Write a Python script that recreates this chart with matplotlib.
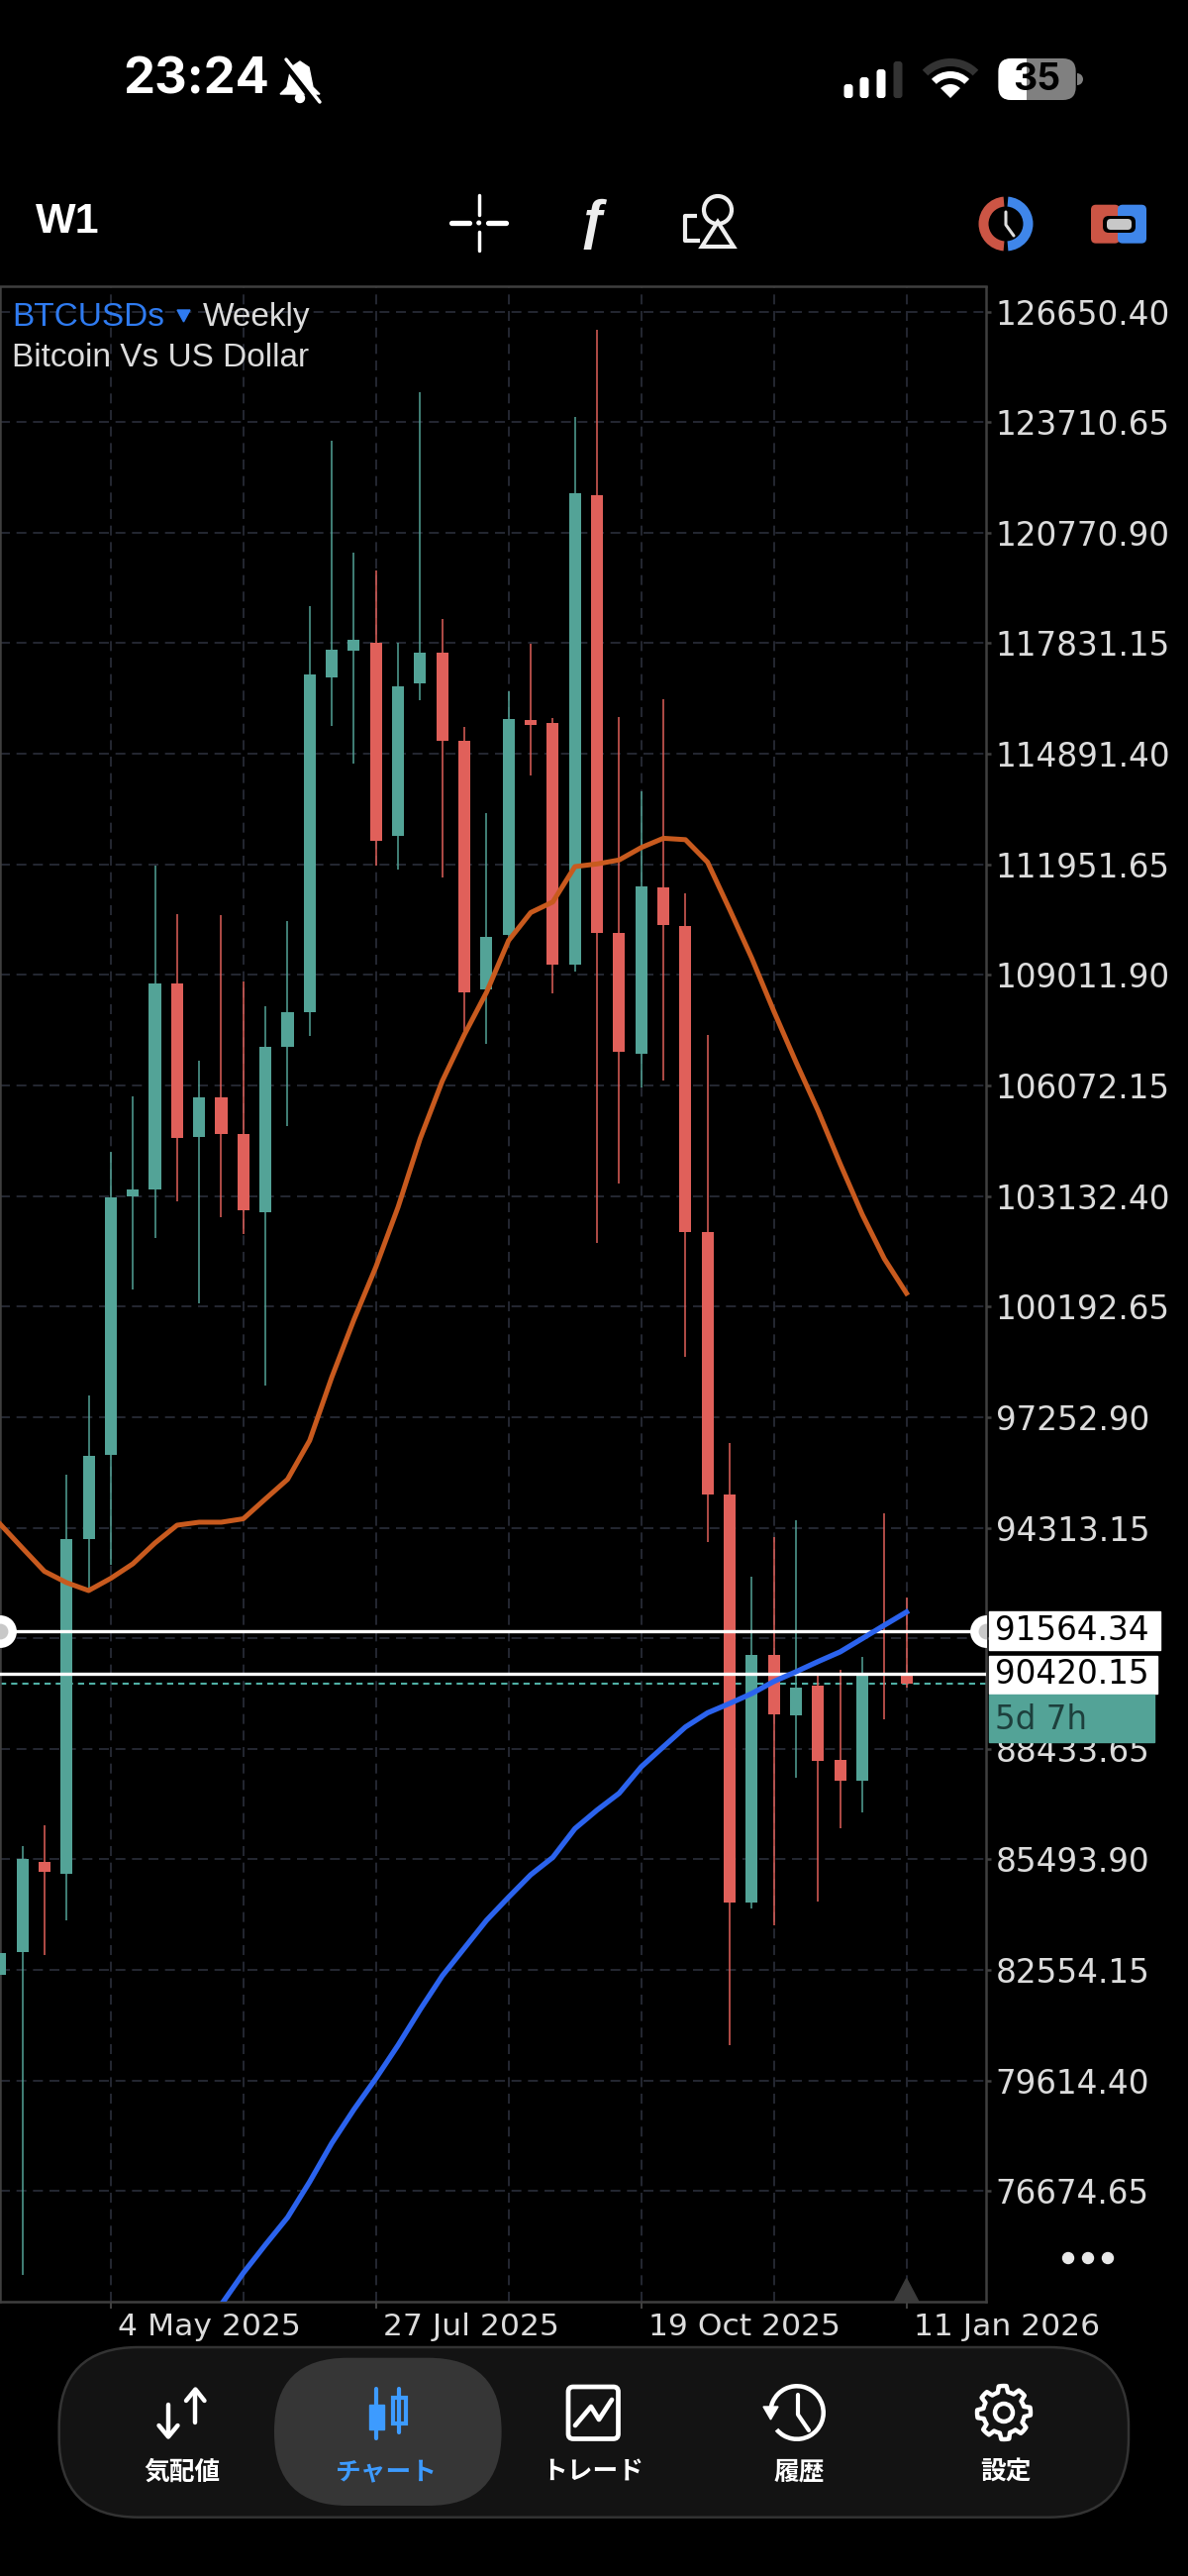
import numpy as np
import matplotlib
matplotlib.use('Agg')
import matplotlib.pyplot as plt
from matplotlib.patches import Rectangle, Circle, Wedge, FancyBboxPatch, Polygon
from matplotlib.transforms import ScaledTranslation

plt.rcParams['lines.scale_dashes'] = False
plt.rcParams['font.family'] = ['Liberation Sans', 'DejaVu Sans']

# Weekly candles, oldest first (index 5 is 4 May 2025, index 41 is 11 Jan 2026)
opens = [82417, 83031, 85432, 85113, 94022, 96255, 103122, 103309, 108776, 104707, 105755, 104781, 102709, 107106,
         108012, 116933, 117639, 117850, 112712, 116770, 117568, 115230, 108634, 110079, 115788, 115698, 109292,
         121776, 110140, 106919, 111338, 110316, 102180, 95209, 84350, 90930, 89324, 90114, 88146, 87592, 90462, 90377]
highs = [83005, 85849, 86401, 95715, 97819, 104307, 105782, 111925, 110627, 106719, 110601, 108847, 108189, 110432,
         118827, 123214, 120238, 119767, 117850, 124504, 118484, 115606, 113313, 116552, 117826, 115841, 123859,
         126163, 115867, 113892, 116341, 111180, 107425, 96566, 93000, 94069, 94517, 90367, 90543, 90883, 94704, 92458]
lows = [82417, 74436, 82957, 83863, 92668, 93327, 100647, 102016, 102991, 100278, 102580, 102111, 98101, 104979,
        107388, 115641, 114629, 111917, 111812, 116323, 111601, 107520, 107177, 109950, 114324, 108528, 109105,
        101874, 103452, 106019, 106203, 98857, 93933, 80556, 84190, 83747, 87666, 84374, 86323, 86734, 89227, 90049]
closes = [83005, 85506, 85164, 94022, 96223, 103085, 103309, 108776, 104684, 105755, 104781, 102756, 107106, 108012,
          117005, 117663, 117934, 112583, 116686, 117568, 115240, 108534, 110021, 115817, 115656, 109292, 121823,
          110127, 106967, 111364, 110327, 102180, 95209, 84337, 90920, 89356, 90072, 88121, 87592, 90462, 90420, 90167]

# Moving averages
ma_fast = [94406, 93775, 93153, 92853, 92642, 92966, 93353, 93906, 94380, 94459, 94459, 94551, 95080, 95599,
           96632, 98314, 99841, 101253, 102838, 104660, 106190, 107425, 108547, 109926, 110669, 110951, 111891,
           111962, 112067, 112397, 112644, 112607, 112009, 110751, 109458, 108046, 106696, 105402, 103991, 102641,
           101463, 100547]
ma_slow_start = 10
ma_slow = [73657, 74500, 75250, 75974, 76922, 77949, 78844, 79674, 80556, 81504, 82399, 83137, 83874, 84490,
           85085, 85548, 86312, 86805, 87252, 87955, 88487, 89014, 89390, 89640, 89904, 90225, 90483, 90754,
           91012, 91365, 91721, 92071]

price_ticks = [126650.40, 123710.65, 120770.90, 117831.15, 114891.40, 111951.65, 109011.90,
               106072.15, 103132.40, 100192.65, 97252.90, 94313.15, 91373.40, 88433.65,
               85493.90, 82554.15, 79614.40, 76674.65]
hidden_tick = 91373.40  # sits behind the price tag
date_ticks = [5, 17, 29, 41]
date_labels = ['4 May 2025', '27 Jul 2025', '19 Oct 2025', '11 Jan 2026']
grid_minor = [11, 23, 35]
level_a = 91564.34
level_b = 90420.15
level_bid = 90159

GREEN = '#53a397'
RED = '#e0605a'
ORANGE = '#c85a1e'
BLUE = '#2b63ee'
GRID = '#2b2e3a'
FRAME = '#3f3f3f'
TEXT = '#dcdcdc'
NAV_BLUE = '#3d9bff'
NUM_FONT = ['DejaVu Sans']

W, H = 1200, 2601
fig = plt.figure(figsize=(W / 100, H / 100), dpi=100, facecolor='black')

# chart axes
ax = fig.add_axes([0, 1 - 2324 / H, 996 / W, (2324 - 289.5) / H], facecolor='black')
ax.set_xlim(-0.01, 44.6)
ax.set_ylim(73735, 127309)

dash = (0, (7.2, 4.8))
ax.set_yticks(price_ticks)
ax.set_yticklabels(['' if t == hidden_tick else '%.2f' % t for t in price_ticks],
                   family=NUM_FONT, fontsize=23.5, color=TEXT)
ax.yaxis.tick_right()
ax.tick_params(axis='y', length=3.6, width=1.8, color=FRAME, pad=3.5)
ax.set_xticks(date_ticks)
ax.set_xticklabels(date_labels, family=NUM_FONT, fontsize=22.6, color=TEXT)
ax.set_xticks(grid_minor, minor=True)
ax.tick_params(axis='x', which='major', length=5, width=1.5, color=FRAME, pad=3)
ax.tick_params(axis='x', which='minor', length=0)
offset = ScaledTranslation(7 / 100, 0, fig.dpi_scale_trans)
for lbl in ax.get_xticklabels():
    lbl.set_ha('left')
    lbl.set_transform(lbl.get_transform() + offset)
ax.grid(True, which='major', color=GRID, linewidth=1.2, linestyle=dash)
ax.grid(True, which='minor', axis='x', color=GRID, linewidth=1.2, linestyle=dash)
ax.set_axisbelow(True)
for s in ax.spines.values():
    s.set_color(FRAME)
    s.set_linewidth(1.8)

# candles
x = np.arange(len(opens))
colors = [GREEN if c >= o else RED for o, c in zip(opens, closes)]
bottoms = [min(o, c) for o, c in zip(opens, closes)]
heights = [abs(c - o) for o, c in zip(opens, closes)]
ax.axhline(level_bid, color='#4fb0a5', linewidth=1.5, linestyle=(0, (4.5, 3.6)), zorder=1)
ax.vlines(x, lows, highs, colors=colors, linewidth=1.1, zorder=2)
ax.bar(x, heights, bottom=bottoms, width=0.54, color=colors, linewidth=0, zorder=3)

# levels and averages
ax.axhline(level_a, color='white', linewidth=2.4, zorder=4)
ax.axhline(level_b, color='white', linewidth=2.4, zorder=4)
ax.plot(x, ma_fast, color=ORANGE, linewidth=3.6, zorder=5)
ax.plot(x[ma_slow_start:], ma_slow, color=BLUE, linewidth=3.8, zorder=5)
ax.scatter([0, 44.6], [level_a, level_a], s=560, color='white', linewidth=0, zorder=6)
ax.scatter([0, 44.6], [level_a, level_a], s=130, color='#c8c8c8', linewidth=0, zorder=7)
ax.fill([41, 40.45, 41.55], [74350, 73735, 73735], color='#3a3a3a', zorder=6)

# overlay in pixel coordinates for the app chrome
ov = fig.add_axes([0, 0, 1, 1], facecolor='none')
ov.set_xlim(0, W)
ov.set_ylim(H, 0)
ov.axis('off')


def line(xs, ys, color='white', lw=3.0, cap='round', **kw):
    ov.plot(xs, ys, color=color, linewidth=lw, solid_capstyle=cap, solid_joinstyle='round', **kw)


def rbox(x0, y0, x1, y1, r, **kw):
    p = FancyBboxPatch((x0 + r, y0 + r), x1 - x0 - 2 * r, y1 - y0 - 2 * r,
                       boxstyle='round,pad=%f,rounding_size=%f' % (r, r), **kw)
    ov.add_patch(p)
    return p


# header text
ov.text(12, 329, 'BTCUSDs', color='#2f7bf0', fontsize=24, va='baseline')
ov.add_patch(Polygon([[179, 313], [192, 313], [185.5, 325]], color='#2f7bf0'))
ov.text(205, 329, 'Weekly', color=TEXT, fontsize=24, va='baseline')
ov.text(12, 370, 'Bitcoin Vs US Dollar', color=TEXT, fontsize=24, va='baseline')

# current price tags
ov.add_patch(Rectangle((999, 1627), 172.7, 38.7, color='white', zorder=3))
ov.add_patch(Rectangle((999, 1671.7), 170, 38.6, color='white', zorder=3))
ov.add_patch(Rectangle((999, 1711), 167.3, 48, color=GREEN, zorder=3))
tag_font = dict(family=NUM_FONT, fontsize=23.5, ha='left', va='center', zorder=4)
ov.text(1005, 1647, '91564.34', color='black', **tag_font)
ov.text(1005, 1691, '90420.15', color='black', **tag_font)
ov.text(1005, 1736, '5d 7h', color='#1d3f3c', **tag_font)

for cx in (1079, 1099, 1119):
    ov.add_patch(Circle((cx, 2280), 5.5, color='#e8e8e8'))

# status bar
ov.text(124, 81, '23:24', color='white', family=['Inter', 'DejaVu Sans'], fontweight='bold', fontsize=36.5, va='center')
bell = [[303, 62], [312, 68], [316, 88], [323, 95], [283, 95], [290, 88], [294, 68]]
ov.add_patch(Polygon(bell, color='white'))
ov.add_patch(Circle((303, 99), 4.5, color='white'))
line([284, 318], [58, 103], color='black', lw=5)
line([289, 323], [60, 103], color='white', lw=2.5)
bar_x = [857, 873, 890, 907]
bar_top = [85, 78, 70, 62]
for i, (bx, bt) in enumerate(zip(bar_x, bar_top)):
    rbox(bx - 4.5, bt, bx + 4.5, 99, 3, color='#333333' if i == 3 else 'white', linewidth=0)
ov.add_patch(Wedge((960, 99), 40, 225, 315, width=8, color='#333333', linewidth=0))
ov.add_patch(Wedge((960, 99), 27, 225, 315, width=7, color='white', linewidth=0))
ov.add_patch(Wedge((960, 99), 14, 225, 315, color='white', linewidth=0))
rbox(1008.5, 59, 1086.7, 101, 13, color='#808080', linewidth=0)
left_half = rbox(1008.5, 59, 1086.7, 101, 13, color='white', linewidth=0)
left_half.set_clip_path(Rectangle((1008, 50), 29, 60, transform=ov.transData))
ov.add_patch(Wedge((1088, 80), 6, -90, 90, color='#808080', linewidth=0))
ov.text(1047, 81, '35', color='black', family=['Inter', 'DejaVu Sans'], fontweight='bold', fontsize=27,
        ha='center', va='center')

# toolbar
ov.text(36, 224, 'W1', color='white', fontweight='bold', fontsize=31, va='center')
line([456, 474], [225, 225], lw=3.8)
line([493, 511], [225, 225], lw=3.8)
line([483.7, 483.7], [197, 217], lw=2.5)
line([483.7, 483.7], [234, 253], lw=2.5)
ov.add_patch(Circle((483.7, 225), 1.8, color='white'))
ov.text(600, 226, '\u0192', color='#eeeeee', fontsize=40, fontweight='bold', ha='center', va='center')
ov.add_patch(Circle((725, 212), 14, fill=False, edgecolor='#eeeeee', linewidth=3))
ov.add_patch(Polygon([[725, 224], [709, 249], [741, 249]], fill=False, edgecolor='#eeeeee', linewidth=3))
line([704, 692, 692, 707], [218, 218, 243, 243], color='#eeeeee', lw=3, cap='butt')
ov.add_patch(Wedge((1016, 226), 27.5, 95, 265, width=10, color='#cc5545', linewidth=0))
ov.add_patch(Wedge((1016, 226), 27.5, -85, 85, width=10, color='#3f86ea', linewidth=0))
line([1016, 1016, 1024], [214, 227, 238], color='#dddddd', lw=2.2)
rbox(1102, 206.7, 1131, 245.7, 5, color='#cc5545', linewidth=0)
rbox(1129, 206.7, 1158, 245.7, 5, color='#3f86ea', linewidth=0)
rbox(1114, 218, 1147, 235, 6, color='black', linewidth=0)
rbox(1118, 221, 1143, 232, 4, color='#c8c8c8', linewidth=0)

# bottom nav
rbox(59.7, 2370, 1140, 2541.7, 80, facecolor='#131313', edgecolor='#333333', linewidth=1.8)
rbox(277, 2380.7, 506.6, 2530, 74, facecolor='#363636', edgecolor='none')
nav_x = [184.4, 390, 599, 807, 1015.5]
nav_labels = ['\u6c17\u914d\u5024', '\u30c1\u30e3\u30fc\u30c8', '\u30c8\u30ec\u30fc\u30c9', '\u5c65\u6b74', '\u8a2d\u5b9a']
for nx, nl in zip(nav_x, nav_labels):
    ov.text(nx, 2495.7, nl, color=NAV_BLUE if nl == nav_labels[1] else 'white', fontsize=18.5, fontweight='bold',
            family=['Noto Sans CJK JP', 'DejaVu Sans'], ha='center', va='center')

# quotes icon
line([197.4, 197.4], [2446, 2414], lw=3.2)
line([188, 197.4, 206.5], [2424, 2412.5, 2424], lw=3.2)
line([170, 170], [2428, 2459], lw=3.2)
line([160.5, 170, 179.5], [2449, 2460.5, 2449], lw=3.2)

# candle icon
line([380, 380], [2412, 2461.5], color=NAV_BLUE, lw=3)
ov.add_patch(Rectangle((372.7, 2428), 15.3, 24.7, color=NAV_BLUE))
line([403, 403], [2412, 2455.5], color=NAV_BLUE, lw=3)
ov.add_patch(Rectangle((397, 2421), 12.5, 25.5, fill=False, edgecolor=NAV_BLUE, linewidth=3))

# trade icon
rbox(574, 2410, 624.5, 2462.5, 5, fill=False, edgecolor='white', linewidth=3.4)
line([581, 597, 605, 618], [2449, 2430, 2443, 2423], lw=3.4)

# history icon
ov.add_patch(Wedge((805, 2436), 29, -175, 140, width=4.5, color='white', linewidth=0))
ov.add_patch(Polygon([[771, 2430], [786, 2430], [778.5, 2443]], color='white'))
line([806, 806, 817], [2418, 2438, 2454], lw=3)

# settings icon
teeth = 8
gear_a = np.linspace(0, 2 * np.pi, teeth * 8 + 1)
gear_r = np.where(((gear_a + np.pi / 8 / 2) % (2 * np.pi / teeth)) < (np.pi / teeth), 27, 21)
ov.add_patch(Polygon(np.c_[1014 + gear_r * np.cos(gear_a), 2436 + gear_r * np.sin(gear_a)], fill=False,
                     edgecolor='white', linewidth=3.2, joinstyle='round'))
ov.add_patch(Circle((1014, 2436), 9, fill=False, edgecolor='white', linewidth=3.2))

fig.savefig('out.png', dpi=100, facecolor='black')
